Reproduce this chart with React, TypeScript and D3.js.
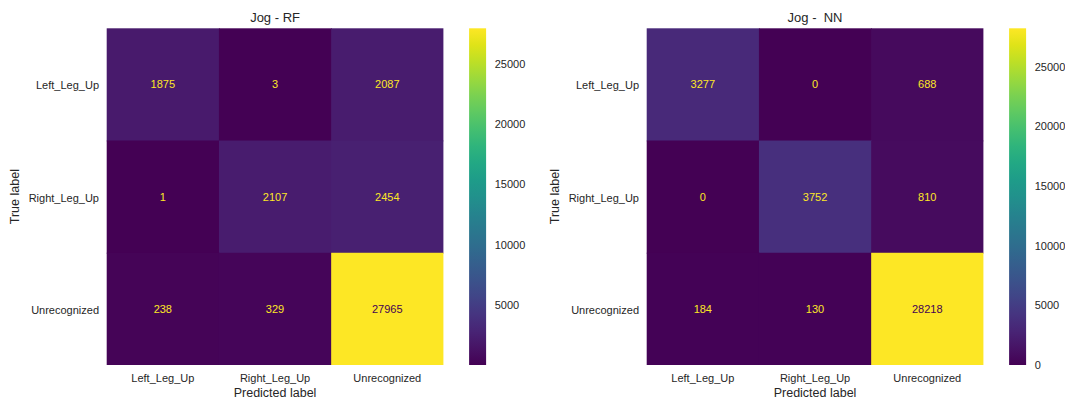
import React from "react";
import * as d3 from "d3";

// Confusion matrices for the jogging activity, rows = true label, cols = predicted label
const classLabels = ["Left_Leg_Up", "Right_Leg_Up", "Unrecognized"];
const rfTitle = "Jog - RF";
const nnTitle = "Jog -  NN";
const rfMatrix = [
  [1875, 3, 2087],
  [1, 2107, 2454],
  [238, 329, 27965],
];
const nnMatrix = [
  [3277, 0, 688],
  [0, 3752, 810],
  [184, 130, 28218],
];
const colorbarTicks = [0, 5000, 10000, 15000, 20000, 25000];

const W = 1065;
const H = 401;
const FONT = "'Liberation Sans', Arial, Helvetica, sans-serif";
const TEXT = "#262626";

type PanelProps = {
  id: string;
  title: string;
  matrix: number[][];
  left: number;
};

function Panel({ id, title, matrix, left }: PanelProps) {
  const top = 28.3;
  const size = 336.7;
  const flat = matrix.flat();
  const vmin = d3.min(flat) as number;
  const vmax = d3.max(flat) as number;
  const color = d3.scaleSequential(d3.interpolateViridis).domain([vmin, vmax]);
  const thresh = (vmin + vmax) / 2;

  const x = d3.scaleBand<string>().domain(classLabels).range([left, left + size]);
  const y = d3.scaleBand<string>().domain(classLabels).range([top, top + size]);
  const n = classLabels.length;

  const cbLeft = left + size + 25.7;
  const cbWidth = 17;
  const cbScale = d3.scaleLinear().domain([vmin, vmax]).range([top + size, top]);
  const gradStops = d3.range(0, 1.0001, 0.05);

  return (
    <g>
      <defs>
        <linearGradient id={`cb-${id}`} x1="0" y1="1" x2="0" y2="0">
          {gradStops.map((t) => (
            <stop key={t} offset={t} stopColor={d3.interpolateViridis(t)} />
          ))}
        </linearGradient>
      </defs>
      <text
        x={left + size / 2}
        y={21.7}
        textAnchor="middle"
        fontSize={13}
        fill={TEXT}
        style={{ whiteSpace: "pre" }}
      >
        {title}
      </text>
      {matrix.map((row, i) =>
        row.map((v, j) => (
          <rect
            key={`c-${i}-${j}`}
            x={x(classLabels[j])}
            y={y(classLabels[i])}
            // slight overlap between neighbouring cells hides antialiasing seams
            width={x.bandwidth() + (j < n - 1 ? 0.8 : 0)}
            height={y.bandwidth() + (i < n - 1 ? 0.8 : 0)}
            fill={color(v)}
          />
        ))
      )}
      {matrix.map((row, i) =>
        row.map((v, j) => (
          <text
            key={`t-${i}-${j}`}
            x={(x(classLabels[j]) as number) + x.bandwidth() / 2}
            y={(y(classLabels[i]) as number) + y.bandwidth() / 2}
            dy="0.36em"
            textAnchor="middle"
            fontSize={11}
            fill={v < thresh ? color(vmax) : color(vmin)}
          >
            {v}
          </text>
        ))
      )}
      {classLabels.map((c) => (
        <text
          key={`y-${c}`}
          x={left - 7.7}
          y={(y(c) as number) + y.bandwidth() / 2}
          dy="0.45em"
          textAnchor="end"
          fontSize={11}
          fill={TEXT}
        >
          {c}
        </text>
      ))}
      {classLabels.map((c) => (
        <text
          key={`x-${c}`}
          x={(x(c) as number) + x.bandwidth() / 2}
          y={382.3}
          textAnchor="middle"
          fontSize={11}
          fill={TEXT}
        >
          {c}
        </text>
      ))}
      <text
        x={left + size / 2}
        y={396.5}
        textAnchor="middle"
        fontSize={12.5}
        fill={TEXT}
      >
        Predicted label
      </text>
      <text
        transform={`translate(${left - 87.5},${top + size / 2}) rotate(-90)`}
        textAnchor="middle"
        fontSize={12.5}
        fill={TEXT}
      >
        True label
      </text>
      <rect
        x={cbLeft}
        y={top}
        width={cbWidth}
        height={size}
        fill={`url(#cb-${id})`}
      />
      {colorbarTicks
        .filter((t) => t >= vmin && t <= vmax)
        .map((t) => (
          <text
            key={`cb-${t}`}
            x={cbLeft + cbWidth + 8.6}
            y={cbScale(t)}
            dy="0.36em"
            fontSize={11}
            fill={TEXT}
          >
            {t}
          </text>
        ))}
    </g>
  );
}

export default function App() {
  return (
    <svg
      width={W}
      height={H}
      viewBox={`0 0 ${W} ${H}`}
      style={{ position: "absolute", left: 0, top: 0, display: "block", background: "#fff" }}
      fontFamily={FONT}
    >
      <rect width={W} height={H} fill="#fff" />
      <Panel id="rf" title={rfTitle} matrix={rfMatrix} left={106.7} />
      <Panel id="nn" title={nnTitle} matrix={nnMatrix} left={646.7} />
    </svg>
  );
}
